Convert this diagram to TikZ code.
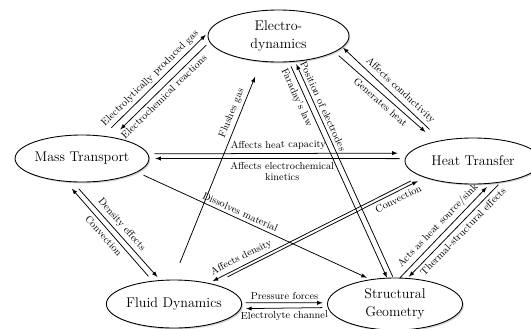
\documentclass[tikz,border=0pt]{standalone}
\usepackage{tikz}
\usetikzlibrary{arrows,shapes,shadows}

\begin{document}
\begin{tikzpicture}[->,>=latex,x=0.03cm,y=-0.03cm,
                field/.style={ellipse,draw,fill=white,align=center,inner sep=0pt,line width=0.75pt,
                  font=\fontsize{12}{15.5}\selectfont,
                  drop shadow={shadow xshift=1.2pt,shadow yshift=-1.2pt,opacity=0.35}},
                lbl/.style={font=\fontsize{8.6}{9.8}\selectfont,sloped,inner xsep=1pt,inner ysep=2.6pt,align=center},
                every edge/.append style={line width=0.65pt}]

\useasboundingbox (0,0) rectangle (531,328);

\node[field,minimum width=4.23cm,minimum height=1.56cm] (ED) at (278.5,36)  {Electro-\\dynamics};
\node[field,minimum width=3.96cm,minimum height=1.41cm] (MT) at (82,158.5)  {Mass Transport};
\node[field,minimum width=4.08cm,minimum height=1.38cm] (HT) at (473,161)   {Heat Transfer};
\node[field,minimum width=4.05cm,minimum height=1.44cm] (FD) at (174,304)   {Fluid Dynamics};
\node[field,minimum width=4.05cm,minimum height=1.56cm] (SG) at (395,304)   {Structural\\Geometry};

  \path (MT.47)    edge [shorten <=9.8pt,shorten >=2.9pt]  node [lbl,above,pos=.5]  {Electrolytically produced gas} (ED.177.7)
        (ED.185.5) edge [shorten <=3.7pt,shorten >=9.3pt]  node [lbl,below,pos=.52] {Electrochemical reactions} (MT.35.9)
        (FD.92.7)  edge [shorten <=15.3pt,shorten >=13.9pt] node [lbl,above,pos=.75] {Flushes gas} (ED.236.8)
        (HT.147.2) edge [shorten <=13.5pt,shorten >=0.5pt] node [lbl,above,pos=.47] {Affects conductivity} (ED.350.2)
        (ED.344.5) edge [shorten <=4.5pt,shorten >=12pt]   node [lbl,below,pos=.5]  {Generates heat} (HT.152)
        (ED.292.6) edge [shorten <=4pt,shorten >=0pt]      node [lbl,below,pos=.15] {Faraday's law} (SG.107.1)
        (SG.94.2)  edge [shorten <=0.85pt,shorten >=2.3pt] node [lbl,above,pos=.78] {Position of electrodes} (ED.303.9)
        (MT.4.4)   edge [shorten <=5.4pt,shorten >=9.3pt]  node [lbl,above,pos=.5]  {Affects heat capacity} (HT.173.4)
        (HT.178.2) edge [shorten <=4.5pt,shorten >=5.1pt]  node [lbl,below,pos=.48] {Affects electrochemical\\kinetics} (MT.0)
        (MT.346.8) edge [shorten <=6pt,shorten >=3.3pt]    node [lbl,above,pos=.43] {Dissolves material} (SG.135)
        (HT.196.2) edge [shorten <=9.3pt,shorten >=3.6pt]  node [lbl,above,pos=.83] {Affects density} (FD.31.9)
        (FD.27)    edge [shorten <=13.7pt,shorten >=6.7pt] node [lbl,below,pos=.86] {Convection} (HT.199.1)
        (MT.249.1) edge [shorten <=7.5pt,shorten >=3.5pt]  node [lbl,above,pos=.49] {Density effects} (FD.120.6)
        (FD.133.9) edge [shorten <=5.1pt,shorten >=7.9pt]  node [lbl,below,pos=.5]  {Convection} (MT.235.5)
        (FD.1)     edge [shorten <=3pt,shorten >=3.8pt]    node [lbl,above,pos=.5]  {Pressure forces} (SG.179)
        (SG.183.4) edge [shorten <=4.6pt,shorten >=4.5pt]  node [lbl,below,pos=.5]  {Electrolyte channel} (FD.356.6)
        (SG.79.1)  edge [shorten <=0pt,shorten >=4pt]      node [lbl,above,pos=.49] {Acts as heat source/sink} (HT.307.6)
        (HT.322.5) edge [shorten <=2.7pt,shorten >=1.4pt]  node [lbl,below,pos=.46] {Thermal-structural effects} (SG.64.3)
        ;
\end{tikzpicture}
\end{document}
